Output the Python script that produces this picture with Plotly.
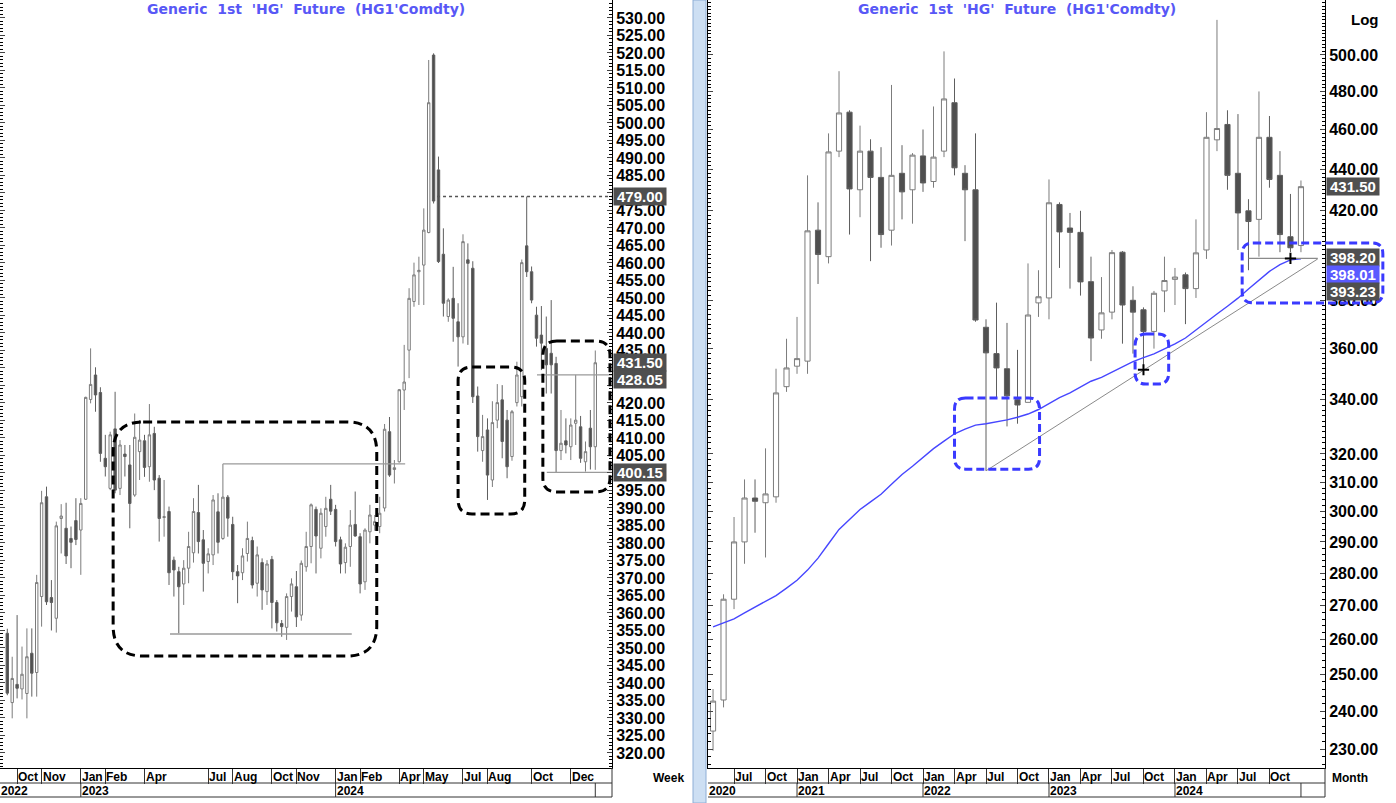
import numpy as np
import pandas as pd
import plotly.graph_objects as go

# ======================= DATA =======================
# Left panel: weekly bars, first bar = week starting 2022-09-19
week_first = "2022-09-19"
w_open = [354.2, 334.4, 339.6, 338.3, 337.0, 348.5, 343.0, 364.7, 393.2, 364.4,
          358.5, 387.0, 384.2, 381.3, 386.4, 383.7, 392.5, 421.0, 428.0, 423.0,
          404.2, 395.6, 412.6, 395.6, 405.4, 402.3, 393.7, 406.1, 409.2, 401.8,
          411.3, 398.5, 387.3, 389.0, 375.1, 371.8, 368.3, 372.8, 377.2, 388.7,
          380.9, 374.7, 376.6, 388.9, 381.3, 393.1, 385.3, 371.8, 371.5, 377.0,
          380.7, 368.5, 374.4, 366.1, 375.3, 363.0, 357.0, 355.9, 364.7, 367.5,
          359.4, 373.2, 379.0, 389.6, 378.5, 384.7, 392.5, 389.6, 380.9, 374.4,
          379.0, 385.3, 381.8, 368.9, 383.2, 385.1, 384.7, 390.0, 411.8, 401.0,
          403.2, 423.7, 435.1, 449.0, 457.5, 459.4, 468.7, 519.4, 486.6, 462.5,
          444.7, 449.9, 443.2, 438.9, 460.9, 458.5, 422.0, 406.4, 412.3, 398.0,
          415.1, 420.9, 415.1, 404.7, 420.1, 421.8, 464.9, 457.5, 445.1, 439.4,
          435.6, 434.2, 431.3, 406.4, 409.2, 407.5, 414.2, 413.2, 403.2, 412.8,
          407.5]
w_high = [355.5, 347.5, 359.4, 350.4, 355.6, 355.6, 370.9, 394.9, 396.1, 369.4,
          386.1, 391.1, 391.5, 384.7, 392.8, 392.8, 421.8, 435.6, 430.2, 424.5,
          410.9, 411.8, 423.2, 409.4, 408.0, 408.0, 417.0, 415.1, 410.9, 419.7,
          413.2, 399.4, 398.0, 390.4, 376.1, 373.2, 375.1, 383.2, 392.8, 396.6,
          383.7, 378.5, 393.7, 394.2, 402.6, 393.7, 387.5, 373.7, 378.5, 386.1,
          381.8, 379.0, 375.6, 375.1, 376.3, 363.7, 358.0, 365.6, 369.9, 372.0,
          375.0, 383.2, 391.3, 390.4, 389.9, 393.2, 396.6, 390.9, 381.8, 379.9,
          389.4, 394.7, 382.8, 384.2, 390.9, 388.0, 393.2, 414.0, 416.0, 403.7,
          424.0, 436.6, 452.8, 460.1, 461.8, 475.6, 518.0, 519.9, 490.4, 469.9,
          449.9, 458.9, 448.5, 468.2, 465.6, 460.5, 424.7, 416.6, 415.6, 420.5,
          425.4, 425.1, 418.0, 418.0, 431.8, 461.0, 479.0, 459.0, 447.5, 447.7,
          444.7, 449.4, 433.2, 418.0, 415.6, 415.6, 428.05, 416.3, 409.0, 418.0,
          435.0]
w_low = [336.5, 329.9, 335.6, 335.3, 329.9, 336.1, 336.1, 356.1, 362.3, 355.0,
         354.4, 377.0, 374.0, 372.8, 379.4, 370.9, 392.3, 419.9, 417.5, 403.2,
         399.0, 395.1, 394.2, 393.7, 399.0, 384.2, 393.2, 398.0, 398.9, 397.5,
         395.1, 380.4, 381.8, 368.0, 364.7, 354.2, 362.3, 368.5, 374.4, 377.0,
         366.1, 371.3, 373.7, 377.0, 380.9, 381.8, 369.4, 362.8, 369.4, 374.7,
         367.0, 364.7, 360.9, 362.3, 355.6, 354.7, 353.2, 352.3, 360.4, 356.0,
         357.8, 371.8, 374.2, 371.3, 375.6, 381.8, 388.0, 379.0, 371.3, 371.3,
         373.2, 381.8, 365.6, 366.6, 379.9, 383.5, 382.8, 389.0, 398.9, 397.0,
         403.0, 418.0, 427.1, 447.5, 448.0, 448.0, 468.5, 477.0, 460.0, 444.7,
         443.2, 437.5, 430.4, 437.0, 436.6, 420.0, 406.1, 403.2, 392.3, 396.0,
         412.8, 404.2, 398.5, 403.5, 419.0, 419.0, 456.0, 448.5, 436.1, 429.4,
         422.7, 422.7, 400.1, 403.7, 405.6, 403.7, 408.0, 402.9, 400.4, 401.0,
         400.9]
w_close = [337.1, 341.3, 338.5, 342.5, 347.5, 342.8, 368.7, 391.5, 363.2, 363.0,
           384.9, 387.7, 376.3, 380.2, 381.0, 391.3, 421.6, 425.3, 422.3, 405.6,
           401.8, 410.9, 395.1, 408.0, 404.7, 391.3, 410.2, 409.4, 401.6, 410.9,
           398.0, 387.0, 387.5, 371.5, 372.3, 367.5, 372.8, 379.0, 389.0, 380.4,
           374.2, 376.9, 392.3, 380.2, 393.1, 387.1, 371.8, 370.6, 376.3, 381.3,
           368.0, 376.6, 366.6, 374.0, 363.0, 357.2, 356.1, 364.7, 368.3, 358.9,
           374.2, 379.0, 390.9, 382.0, 388.5, 389.9, 389.1, 380.4, 374.0, 378.8,
           385.1, 382.0, 368.3, 383.7, 388.0, 386.1, 388.5, 412.5, 399.4, 401.5,
           423.8, 426.0, 449.9, 456.6, 457.9, 469.4, 505.8, 477.7, 460.4, 448.5,
           449.4, 444.2, 438.9, 466.1, 459.9, 421.8, 410.4, 410.4, 399.4, 414.4,
           420.1, 409.0, 401.8, 417.5, 428.0, 460.1, 457.5, 449.4, 438.5, 437.1,
           430.9, 430.9, 406.4, 408.5, 408.0, 413.7, 415.1, 404.2, 406.1, 407.5,
           431.5]

# Right panel: monthly bars, May 2020 .. Jan 2025 (log scale)
month_first = "2020-05-01"
m_open = [234.7, 243.0, 272.0, 290.0, 304.6, 303.0, 305.0, 345.0, 353.0, 355.0,
          411.0, 399.0, 449.0, 469.0, 430.0, 449.0, 436.0, 411.0, 438.0, 430.0,
          446.6, 434.0, 449.0, 474.0, 438.0, 430.0, 368.7, 358.0, 352.0, 340.0,
          339.0, 378.9, 381.0, 423.0, 412.0, 410.0, 388.0, 367.6, 375.0, 401.0,
          380.0, 376.0, 367.0, 384.0, 389.0, 391.0, 385.0, 402.0, 454.7, 462.6,
          438.0, 420.0, 416.0, 456.0, 437.0, 408.0, 404.0]
m_high = [246.0, 273.5, 298.2, 311.0, 311.0, 322.0, 352.0, 364.0, 373.0, 437.0,
          424.0, 458.0, 491.0, 470.0, 462.0, 455.0, 451.0, 483.5, 452.0, 448.0,
          460.0, 472.0, 502.0, 487.0, 442.0, 458.0, 372.0, 379.0, 370.5, 359.5,
          396.0, 393.0, 435.0, 424.0, 419.0, 420.0, 399.0, 390.0, 402.0, 401.5,
          386.0, 377.0, 384.0, 399.0, 394.0, 392.0, 416.0, 469.0, 520.0, 470.0,
          468.0, 425.5, 480.0, 467.0, 449.0, 428.0, 434.5]
m_low = [229.6, 241.0, 269.0, 283.0, 293.0, 285.0, 303.0, 343.0, 350.0, 350.0,
         387.0, 396.0, 446.0, 409.0, 417.0, 397.0, 403.0, 404.0, 416.0, 414.0,
         429.0, 431.0, 446.0, 437.0, 406.0, 371.0, 314.0, 341.0, 330.0, 331.0,
         339.0, 373.0, 372.0, 394.0, 385.0, 382.0, 355.0, 364.0, 372.0, 362.0,
         358.0, 353.0, 360.0, 375.0, 378.0, 370.0, 381.0, 398.0, 449.0, 430.0,
         402.0, 393.0, 399.0, 431.0, 401.0, 401.0, 401.0]
m_close = [242.7, 272.0, 290.0, 304.6, 303.5, 306.0, 342.6, 352.3, 356.0, 410.7,
           400.0, 448.6, 468.6, 430.4, 449.0, 436.0, 409.0, 437.0, 429.0, 447.0,
           433.3, 446.0, 476.0, 440.7, 430.0, 371.7, 358.3, 352.3, 341.5, 338.0,
           373.8, 381.5, 423.8, 410.2, 410.0, 387.9, 364.3, 374.7, 400.8, 378.0,
           375.0, 367.0, 383.0, 388.5, 390.0, 385.0, 400.7, 456.0, 460.5, 437.0,
           419.0, 415.0, 456.0, 435.0, 409.0, 403.0, 431.5]
m_ma = [263.7, 264.9, 266.1, 267.9, 269.6, 271.4, 273.1, 275.4, 277.8, 281.0,
        284.8, 289.4, 294.1, 297.4, 300.7, 303.3, 305.9, 309.3, 312.7, 315.6,
        318.7, 321.9, 324.6, 327.3, 329.0, 330.5, 331.0, 331.6, 332.4, 333.4,
        334.6, 336.3, 338.7, 340.8, 342.6, 344.9, 347.1, 348.6, 350.7, 352.9,
        354.8, 356.4, 357.9, 359.9, 361.9, 364.3, 367.7, 371.1, 374.2, 377.5,
        380.9, 384.8, 388.8, 392.5, 395.5, 397.6, 398.01]

# Axis labels
wk_tick_months = ["2022-10", "2022-11", "2023-01", "2023-02", "2023-04", "2023-07",
                  "2023-08", "2023-10", "2023-11", "2024-01", "2024-02", "2024-04",
                  "2024-05", "2024-07", "2024-08", "2024-10", "2024-12"]
wk_tick_text = ["Oct", "Nov", "Jan", "Feb", "Apr", "Jul", "Aug", "Oct", "Nov",
                "Jan", "Feb", "Apr", "May", "Jul", "Aug", "Oct", "Dec"]
wk_years = ["2022", "2023", "2024"]
mo_tick_months = ["2020-07", "2020-10", "2021-01", "2021-04", "2021-07", "2021-10",
                  "2022-01", "2022-04", "2022-07", "2022-10", "2023-01", "2023-04",
                  "2023-07", "2023-10", "2024-01", "2024-04", "2024-07", "2024-10"]
mo_tick_text = ["Jul", "Oct", "Jan", "Apr", "Jul", "Oct", "Jan", "Apr", "Jul", "Oct",
                "Jan", "Apr", "Jul", "Oct", "Jan", "Apr", "Jul", "Oct"]
mo_years = ["2020", "2021", "2022", "2023", "2024"]
left_yticks = list(range(320, 531, 5))
right_yticks = [230, 240, 250, 260, 270, 280, 290, 300, 310, 320,
                340, 360, 380, 400, 420, 440, 460, 480, 500]
# tick labels hidden under price tags
left_hidden = [480, 430, 425, 400]
right_hidden = [400]

# Price tags on the axes
left_tags = [479.00, 431.50, 428.05, 400.15]
right_tags = [431.50, 398.20, 398.01, 393.23]

# Drawn level lines (left panel): price, first bar, last bar (None = to edge)
left_levels = [479.00, 402.6, 354.0, 428.05, 400.15]
left_level_start = [87.7, 44.0, 33.2, 108.1, 110.1]
left_level_end = [None, 81.2, 70.3, None, None]
# Right panel trend line (bar index, price) and level
trend_idx = [26, 57.6]
trend_val = [314.0, 398.0]
right_level = 398.20
right_level_start = 51
anchor_idx = [41, 55]
anchor_val = [351.6, 398.2]

# Highlight boxes (bar index range, price range)
left_box_x = [(21.6, 75.4), (92.0, 105.6), (109.3, 123.0)]
left_box_y = [(347.7, 414.6), (388.3, 430.3), (394.6, 437.7)]
right_box_x = [(23.0, 31.1), (40.2, 43.4), (50.4, 63.8)]
right_box_y = [(314.6, 340.7), (346.0, 365.9), (378.9, 405.2)]

# ======================= LAYOUT CONSTANTS =======================
W, H = 1396, 803
MB = 35
PH = H - MB
FONT = "Arial, Liberation Sans, sans-serif"
WIDE = "DejaVu Sans, Verdana, sans-serif"
L_DOM = [0.0, 612 / W]
R_DOM = [708 / W, 1325 / W]
L_RANGE = [-1.49, 123.41]
R_RANGE = [-0.48, 58.29]
L_YR = [315.71, 535.14]
R_YR = [np.log10(225.2), np.log10(531.7)]


def py(pix):
    return (PH - pix) / PH


week_dates = pd.date_range(week_first, periods=len(w_open), freq="7D")
month_dates = pd.date_range(month_first, periods=len(m_open), freq="MS")
wx = np.arange(len(w_open))
mx = np.arange(len(m_open))


def first_bar(dates, ym):
    for i, d in enumerate(dates):
        if d.strftime("%Y-%m") == ym:
            return i
    return None


wk_ticks = [first_bar(week_dates, m) for m in wk_tick_months]
mo_ticks = [first_bar(month_dates, m) for m in mo_tick_months]

fig = go.Figure()

inc = dict(line=dict(color="#7c7c7c", width=1), fillcolor="#ffffff")
dec = dict(line=dict(color="#5e5e5e", width=1), fillcolor="#4f4f4f")

fig.add_trace(go.Candlestick(x=wx, open=w_open, high=w_high, low=w_low, close=w_close,
                             xaxis="x", yaxis="y", increasing=inc, decreasing=dec,
                             whiskerwidth=0, hoverinfo="skip", showlegend=False))
fig.add_trace(go.Candlestick(x=mx, open=m_open, high=m_high, low=m_low, close=m_close,
                             xaxis="x2", yaxis="y2", increasing=inc, decreasing=dec,
                             whiskerwidth=0, hoverinfo="skip", showlegend=False))
fig.add_trace(go.Scatter(x=mx, y=m_ma, mode="lines", xaxis="x2", yaxis="y2",
                         line=dict(color="#4646ff", width=1.4), hoverinfo="skip",
                         showlegend=False))

# level lines left
for lv, s, e in zip(left_levels, left_level_start, left_level_end):
    end = L_RANGE[1] if e is None else e
    dotted = lv == left_levels[0]
    fig.add_trace(go.Scatter(x=[s, end], y=[lv, lv], mode="lines", xaxis="x", yaxis="y",
                             line=dict(color="#555555" if dotted else "#9a9a9a",
                                       width=1.3, dash="dot" if dotted else "solid"),
                             hoverinfo="skip", showlegend=False))

# right trend line, level and anchors
fig.add_trace(go.Scatter(x=trend_idx, y=trend_val, mode="lines", xaxis="x2", yaxis="y2",
                         line=dict(color="#8a8a8a", width=1), hoverinfo="skip", showlegend=False))
fig.add_trace(go.Scatter(x=[right_level_start, trend_idx[1]], y=[right_level, right_level],
                         mode="lines", xaxis="x2", yaxis="y2",
                         line=dict(color="#8a8a8a", width=1.2), hoverinfo="skip", showlegend=False))
fig.add_trace(go.Scatter(x=anchor_idx, y=anchor_val, mode="markers", xaxis="x2", yaxis="y2",
                         marker=dict(symbol="cross-thin", size=8,
                                     line=dict(color="black", width=2)),
                         hoverinfo="skip", showlegend=False))

shapes = []


def rounded_path(x0, x1, y0, y1, rx, ry, ylog=False):
    if ylog:
        ly0, ly1 = np.log10(y0), np.log10(y1)
        f = lambda v: 10 ** v
    else:
        ly0, ly1 = y0, y1
        f = lambda v: v
    P = lambda x, y: f"{x:.5f},{f(y):.5f}"
    return (f"M {P(x0 + rx, ly1)} L {P(x1 - rx, ly1)} Q {P(x1, ly1)} {P(x1, ly1 - ry)} "
            f"L {P(x1, ly0 + ry)} Q {P(x1, ly0)} {P(x1 - rx, ly0)} "
            f"L {P(x0 + rx, ly0)} Q {P(x0, ly0)} {P(x0, ly0 + ry)} "
            f"L {P(x0, ly1 - ry)} Q {P(x0, ly1)} {P(x0 + rx, ly1)} Z")


# left dashed boxes
lpx = (L_RANGE[1] - L_RANGE[0]) / 612
lpy = (L_YR[1] - L_YR[0]) / PH
for k, ((x0, x1), (y0, y1)) in enumerate(zip(left_box_x, left_box_y)):
    r = 30 if k == 0 else 14
    shapes.append(dict(type="path", xref="x", yref="y",
                       path=rounded_path(x0, x1, y0, y1, r * lpx, r * lpy),
                       line=dict(color="black", width=3, dash="9px,5px"), layer="above"))

# right dashed boxes
rpx = (R_RANGE[1] - R_RANGE[0]) / (1325 - 708)
rpy = (R_YR[1] - R_YR[0]) / PH
to_paper = lambda v: R_DOM[0] + (v - R_RANGE[0]) / (R_RANGE[1] - R_RANGE[0]) * (R_DOM[1] - R_DOM[0])
for k, ((x0, x1), (y0, y1)) in enumerate(zip(right_box_x, right_box_y)):
    r = 11
    if k < 2:
        shapes.append(dict(type="path", xref="x2", yref="y2",
                           path=rounded_path(x0, x1, y0, y1, r * rpx, r * rpy, ylog=True),
                           line=dict(color="#3a3aff", width=3, dash="8px,4px"), layer="above"))
    else:
        shapes.append(dict(type="path", xref="paper", yref="y2",
                           path=rounded_path(to_paper(x0), to_paper(x1), y0, y1,
                                             r / W, r * rpy, ylog=True),
                           line=dict(color="#3a3aff", width=3, dash="8px,4px"), layer="above"))

# separator between panels
shapes.append(dict(type="rect", xref="paper", yref="paper", x0=693 / W, x1=706 / W,
                   y0=py(H), y1=1.0, fillcolor="#cddff3", line=dict(color="#8eaed6", width=1),
                   layer="below"))

# date table lines
for xa, last in (("x", len(w_open) - 1), ("x2", len(m_open) - 1)):
    for yy in (783, 797):
        shapes.append(dict(type="line", xref=f"{xa} domain", yref="paper", x0=0, x1=1,
                           y0=py(yy), y1=py(yy), line=dict(color="#333333", width=1)))
    shapes.append(dict(type="line", xref=f"{xa} domain", yref="paper", x0=1, x1=1,
                       y0=py(768), y1=py(797), line=dict(color="#333333", width=1)))
    shapes.append(dict(type="line", xref=xa, yref="paper", x0=last, x1=last,
                       y0=py(783), y1=py(797), line=dict(color="#333333", width=1)))

annotations = []
# titles
title_txt = "<b>Generic\u00a0\u00a01st\u00a0\u00a0'HG'\u00a0\u00a0Future\u00a0\u00a0(HG1'Comdty)</b>"
for xa in ("x", "x2"):
    annotations.append(dict(xref=f"{xa} domain", yref="paper", x=0.5, y=py(9),
                            text=title_txt, showarrow=False,
                            font=dict(family=WIDE, size=14, color="#5858f6"),
                            xanchor="center", yanchor="middle"))

# month / year labels
for xa, ticks, texts, rng, years, dates in (
        ("x", wk_ticks, wk_tick_text, L_RANGE, wk_years, week_dates),
        ("x2", mo_ticks, mo_tick_text, R_RANGE, mo_years, month_dates)):
    for t, txt in zip(ticks, texts):
        annotations.append(dict(xref=xa, yref="paper", x=t, y=py(777), text=f"<b>{txt}</b>",
                                showarrow=False, xanchor="left", yanchor="middle", xshift=-1,
                                font=dict(family=FONT, size=12, color="black")))
    for yv in years:
        if yv == years[0]:
            xpos = rng[0]
        else:
            xpos = first_bar(dates, f"{yv}-01")
            shapes.append(dict(type="line", xref=xa, yref="paper", x0=xpos, x1=xpos,
                               y0=py(783), y1=py(797), line=dict(color="#333333", width=1)))
        annotations.append(dict(xref=xa, yref="paper", x=xpos, y=py(791), text=f"<b>{yv}</b>",
                                showarrow=False, xanchor="left", yanchor="middle", xshift=-1,
                                font=dict(family=FONT, size=12, color="black")))

annotations.append(dict(xref="paper", yref="paper", x=668 / W, y=py(787), text="<b>Week</b>",
                        showarrow=False, font=dict(family=FONT, size=12, color="black")))
annotations.append(dict(xref="paper", yref="paper", x=1370 / W, y=py(787), text="<b>Month</b>",
                        showarrow=False, font=dict(family=FONT, size=12, color="black")))
annotations.append(dict(xref="paper", yref="paper", x=1381 / W, y=py(9), text="<b>Log</b>",
                        showarrow=False, font=dict(family=FONT, size=15, color="black")))

# price tags
TAGF = dict(family=FONT, size=15, color="white")
left_shift = [0, 0, -5, 0]
for v, s in zip(left_tags, left_shift):
    annotations.append(dict(xref="x domain", yref="y", x=1, y=v, xanchor="left", xshift=1,
                            yshift=s, text=f"<b>\u2009{v:.2f}\u2009</b>", showarrow=False,
                            bgcolor="#4f4f4f", borderpad=0, font=TAGF))
right_shift = [0, 1, -15.6, -21.8]
right_bg = ["#4f4f4f", "#4f4f4f", "#5a5aff", "#4f4f4f"]
for v, s, bg in zip(right_tags, right_shift, right_bg):
    annotations.append(dict(xref="x2 domain", yref="y2", x=1, y=np.log10(v), xanchor="left",
                            xshift=1, yshift=s, text=f"<b>\u2009{v:.2f}\u2009</b>", showarrow=False,
                            bgcolor=bg, borderpad=0, font=TAGF))

axis_common = dict(showgrid=False, zeroline=False, showline=True, linecolor="black",
                   linewidth=1, fixedrange=True)
tickfont = dict(family=FONT, size=16, color="black", weight="bold")
left_ticktext = ["" if v in left_hidden else f"{v:.2f}" for v in left_yticks]
right_ticktext = ["" if v in right_hidden else f"{v:.2f}" for v in right_yticks]

fig.update_layout(
    width=W, height=H, margin=dict(l=0, r=0, t=0, b=MB),
    paper_bgcolor="white", plot_bgcolor="white", showlegend=False,
    boxgap=0.3, hovermode=False,
    xaxis=dict(domain=L_DOM, range=L_RANGE, anchor="y", tickvals=wk_ticks, ticks="outside",
               ticklen=15, tickcolor="#333333", showticklabels=False,
               rangeslider=dict(visible=False), **axis_common),
    yaxis=dict(domain=[0, 1], range=L_YR, anchor="x", side="right", tickvals=left_yticks,
               ticktext=left_ticktext, ticks="inside", ticklen=5, tickfont=tickfont,
               mirror="ticks",
               minor=dict(ticks="inside", ticklen=3, dtick=1, tickcolor="black"),
               **axis_common),
    xaxis2=dict(domain=R_DOM, range=R_RANGE, anchor="y2", tickvals=mo_ticks, ticks="outside",
                ticklen=15, tickcolor="#333333", showticklabels=False,
                rangeslider=dict(visible=False), **axis_common),
    yaxis2=dict(domain=[0, 1], type="log", range=R_YR, anchor="x2", side="right",
                tickvals=right_yticks, ticktext=right_ticktext, ticks="inside", ticklen=5,
                tickfont=tickfont, mirror="ticks",
                minor=dict(ticks="inside", ticklen=3, tickvals=list(range(226, 532, 2)),
                           tickcolor="black"),
                **axis_common),
    shapes=shapes, annotations=annotations,
)

fig.write_html("out.html", include_plotlyjs=True, config={"displayModeBar": False},
               post_script="document.body.style.margin='0';")
